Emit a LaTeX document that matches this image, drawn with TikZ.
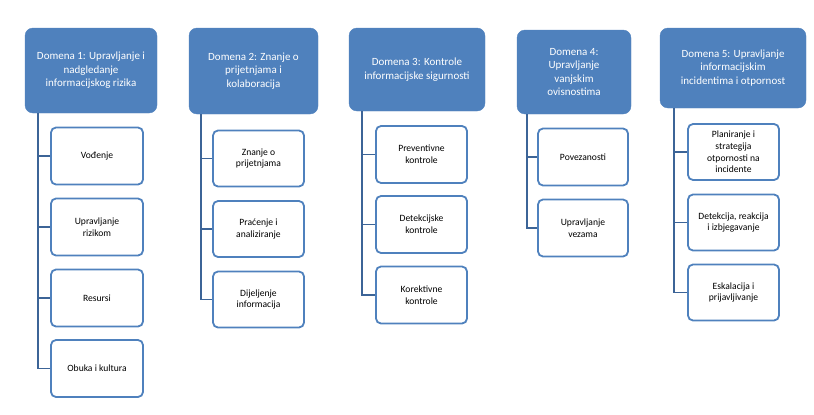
\documentclass[tikz,border=0pt]{standalone}
\usepackage{fontspec}
\setmainfont{Carlito}
\usetikzlibrary{calc}

\definecolor{domblue}{HTML}{4F81BD}
\definecolor{linkblue}{HTML}{3C6497}

\begin{document}
\begin{tikzpicture}[x=1pt,y=-1pt,
    dombox/.style={fill=domblue,draw=domblue,rounded corners=8pt,align=center,
        text=white,inner sep=0pt,font=\fontsize{11}{13.6}\selectfont},
    itembox/.style={draw=domblue,line width=1.8pt,fill=white,rounded corners=5pt,
        align=center,inner sep=0pt,font=\fontsize{9.6}{11.7}\selectfont},
    link/.style={draw=linkblue,line width=1.8pt}]
\useasboundingbox (0,0) rectangle (814,415);

% domena 1
\node[dombox,minimum width=132pt,minimum height=85pt] (d1) at (91,70.5)
    {Domena 1: Upravljanje i\\nadgledanje\\informacijskog rizika};
\node[itembox,minimum width=92pt,minimum height=57pt] (d1a) at (97,156) {Vođenje};
\node[itembox,minimum width=92pt,minimum height=57pt] (d1b) at (97,227) {Upravljanje\\rizikom};
\node[itembox,minimum width=92pt,minimum height=57pt] (d1c) at (97,298) {Resursi};
\node[itembox,minimum width=92pt,minimum height=57pt] (d1d) at (97,368.5) {Obuka i kultura};
\coordinate (l1) at ($(d1.south west)+(13,0)$);
\draw[link] (l1) |- (d1d.west);
\draw[link] (l1 |- d1a) -- (d1a.west);
\draw[link] (l1 |- d1b) -- (d1b.west);
\draw[link] (l1 |- d1c) -- (d1c.west);

% domena 2
\node[dombox,minimum width=129pt,minimum height=86pt] (d2) at (253.5,71)
    {Domena 2: Znanje o\\prijetnjama i\\kolaboracija};
\node[itembox,minimum width=91pt,minimum height=56pt] (d2a) at (258.5,158.5) {Znanje o\\prijetnjama};
\node[itembox,minimum width=91pt,minimum height=56pt] (d2b) at (258.5,229) {Praćenje i\\analiziranje};
\node[itembox,minimum width=91pt,minimum height=56pt] (d2c) at (258.5,299.5) {Dijeljenje\\informacija};
\coordinate (l2) at ($(d2.south west)+(12,0)$);
\draw[link] (l2) |- (d2c.west);
\draw[link] (l2 |- d2a) -- (d2a.west);
\draw[link] (l2 |- d2b) -- (d2b.west);

% domena 3
\node[dombox,minimum width=136pt,minimum height=83pt] (d3) at (417,69.5)
    {Domena 3: Kontrole\\informacijske sigurnosti};
\node[itembox,minimum width=91pt,minimum height=57pt] (d3a) at (421.5,154.5) {Preventivne\\kontrole};
\node[itembox,minimum width=91pt,minimum height=57pt] (d3b) at (421.5,224.5) {Detekcijske\\kontrole};
\node[itembox,minimum width=91pt,minimum height=57pt] (d3c) at (421.5,295) {Korektivne\\kontrole};
\coordinate (l3) at ($(d3.south west)+(13,0)$);
\draw[link] (l3) |- (d3c.west);
\draw[link] (l3 |- d3a) -- (d3a.west);
\draw[link] (l3 |- d3b) -- (d3b.west);

% domena 4
\node[dombox,minimum width=114pt,minimum height=84pt] (d4) at (574,72)
    {Domena 4:\\Upravljanje\\vanjskim\\ovisnostima};
\node[itembox,minimum width=90pt,minimum height=57pt] (d4a) at (583,157) {Povezanosti};
\node[itembox,minimum width=90pt,minimum height=57pt] (d4b) at (583,228) {Upravljanje\\vezama};
\coordinate (l4) at ($(d4.south west)+(10,0)$);
\draw[link] (l4) |- (d4b.west);
\draw[link] (l4 |- d4a) -- (d4a.west);

% domena 5
\node[dombox,minimum width=146pt,minimum height=80pt] (d5) at (733,68)
    {Domena 5: Upravljanje\\informacijskim\\incidentima i otpornost};
\node[itembox,minimum width=91pt,minimum height=56pt] (d5a) at (733.5,152)
    {Planiranje i\\strategija\\otpornosti na\\incidente};
\node[itembox,minimum width=91pt,minimum height=56pt] (d5b) at (733.5,222.5) {Detekcija, reakcija\\i izbjegavanje};
\node[itembox,minimum width=91pt,minimum height=56pt] (d5c) at (733.5,292.5) {Eskalacija i\\prijavljivanje};
\coordinate (l5) at ($(d5.south west)+(14,0)$);
\draw[link] (l5) |- (d5c.west);
\draw[link] (l5 |- d5a) -- (d5a.west);
\draw[link] (l5 |- d5b) -- (d5b.west);
\end{tikzpicture}
\end{document}
